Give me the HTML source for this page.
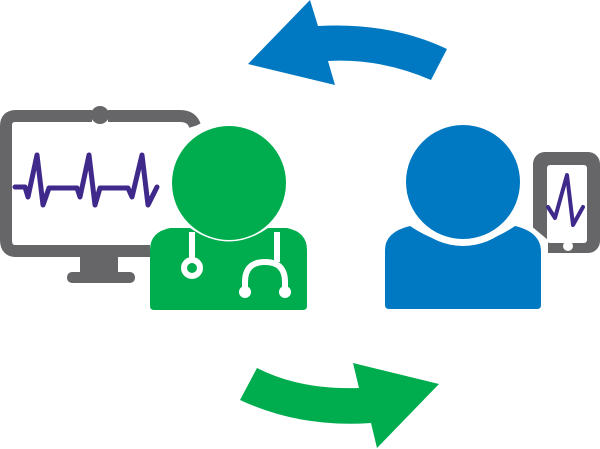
<!DOCTYPE html>
<html><head><style>html,body{margin:0;padding:0;background:#fff;}svg{display:block}</style></head>
<body>
<svg width="600" height="449" viewBox="0 0 600 449" xmlns="http://www.w3.org/2000/svg">
<!-- blue arrow -->
<path d="M248,64 L310,0 L318,26 Q390,22 447,49 L431,80 Q380,58 328,61 L335,85 Z" fill="#0079c2"/>
<!-- green arrow -->
<path d="M257,368 Q300,390 359,388 L353,363 L439,384 L377,448 L371,423 Q300,428 240,400 Z" fill="#00ad4e"/>
<!-- monitor -->
<path d="M92,116 H16 Q6,116 6,126 V240 Q6,251 16,251 H150" fill="none" stroke="#666669" stroke-width="12"/>
<path d="M108,116 H180 Q192,116 195,126" fill="none" stroke="#666669" stroke-width="12"/>
<circle cx="100" cy="115" r="9" fill="#666669"/>
<rect x="80" y="255" width="38" height="18" fill="#666669"/>
<rect x="67" y="272" width="68" height="11" rx="5" fill="#666669"/>
<polyline points="15,187 25,187 28,197 37,155 43,205 49,188 77,188 80,197 89,155 95,205 100,188 128,188 132,197 142,155 148,205 157,187" fill="none" stroke="#3f2a8c" stroke-width="5" stroke-linejoin="round" stroke-linecap="round"/>
<!-- doctor -->
<circle cx="229" cy="183" r="66" fill="#fff"/>
<path d="M150,250 Q150,232 170,228 L190,228 Q229,255 268,228 L287,228 Q307,232 307,250 V306 Q307,310 303,310 H154 Q150,310 150,306 Z" fill="#00ad4e"/>
<circle cx="229" cy="183" r="58" fill="#fff"/>
<circle cx="229" cy="183" r="57" fill="#00ad4e"/>
<path d="M192,232 V262" stroke="#fff" stroke-width="6"/>
<circle cx="192" cy="268" r="8" fill="none" stroke="#fff" stroke-width="6"/>
<path d="M277,232 V262 M245,290 V282 Q245,262 265,262 Q285,262 285,282 V290" fill="none" stroke="#fff" stroke-width="6"/>
<circle cx="245" cy="292" r="6" fill="#fff"/><circle cx="285" cy="292" r="6" fill="#fff"/>
<!-- phone -->
<rect x="533" y="152" width="67" height="101" rx="12" fill="#666669"/>
<rect x="547" y="165" width="40" height="78" rx="3" fill="#fff"/>
<circle cx="568" cy="246" r="5" fill="#fff"/>
<polyline points="548,207 555,218 567,175 573,225 583,207" fill="none" stroke="#3f2a8c" stroke-width="4" stroke-linejoin="round" stroke-linecap="round"/>
<!-- patient -->
<path d="M530,225 L548,240 L548,320 L530,320 Z" fill="#fff"/>
<path d="M385,250 Q385,232 410,226 Q463,262 515,226 Q541,232 541,252 V305 Q541,309 537,309 H389 Q385,309 385,305 Z" fill="#0079c2" stroke="#fff" stroke-width="0"/>
<circle cx="463" cy="182" r="64" fill="#fff"/>
<circle cx="463" cy="182" r="57" fill="#0079c2"/>
</svg>
</body></html>
